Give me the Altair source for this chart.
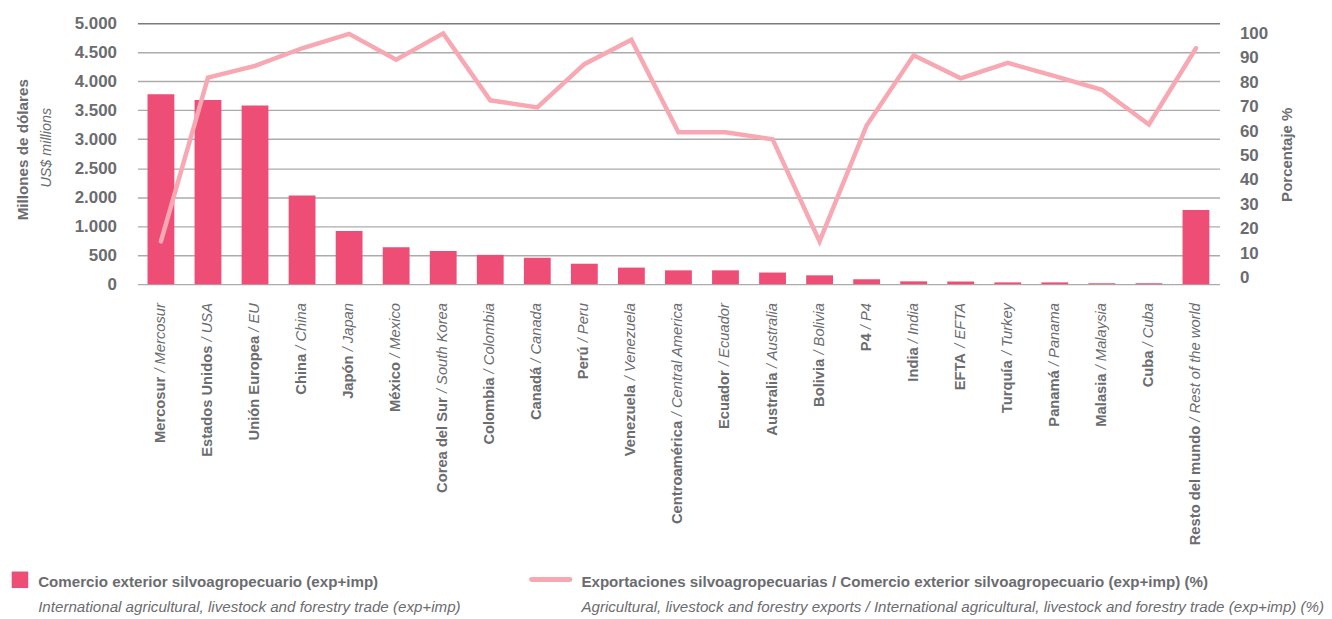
import altair as alt
import pandas as pd

# ---------------- data ----------------
es_names = ["Mercosur", "Estados Unidos", "Unión Europea", "China", "Japón", "México",
            "Corea del Sur", "Colombia", "Canadá", "Perú", "Venezuela", "Centroamérica",
            "Ecuador", "Australia", "Bolivia", "P4", "India", "EFTA", "Turquía", "Panamá",
            "Malasia", "Cuba", "Resto del mundo"]
en_names = ["Mercosur", "USA", "EU", "China", "Japan", "Mexico", "South Korea", "Colombia",
            "Canada", "Peru", "Venezuela", "Central America", "Ecuador", "Australia", "Bolivia",
            "P4", "India", "EFTA", "Turkey", "Panama", "Malaysia", "Cuba", "Rest of the world"]
# Comercio exterior silvoagropecuario (exp+imp), millones de US$
trade = [3775, 3675, 3580, 2030, 915, 638, 572, 505, 455, 352, 285, 238,
         238, 200, 152, 84, 48, 45, 30, 30, 15, 14, 1560]
# Exportaciones / comercio exterior (%)
export_share = [14.9, 81.9, 86.7, 93.9, 99.8, 89.2, 100.0, 72.6, 69.7, 87.4, 97.4, 59.5,
                59.5, 56.7, 14.9, 62.3, 91.0, 81.6, 87.9, 82.5, 76.9, 62.7, 93.9]
left_ticks = [0, 500, 1000, 2000, 2500, 3000, 3500, 4000, 4500, 5000]
right_ticks = [0, 10, 20, 30, 40, 50, 60, 70, 80, 90, 100]

legend_bar_es = "Comercio exterior silvoagropecuario (exp+imp)"
legend_bar_en = "International agricultural, livestock and forestry trade (exp+imp)"
legend_line_es = "Exportaciones silvoagropecuarias / Comercio exterior silvoagropecuario (exp+imp) (%)"
legend_line_en = ("Agricultural, livestock and forestry exports / International agricultural, "
                  "livestock and forestry trade (exp+imp) (%)")

# ---------------- style ----------------
FONT = "Liberation Sans, Arial, sans-serif"
GRAY = "#6b6c6f"
BAR = "#ee4e76"
LINE = "#f7a8b2"
W, H = 1087, 262
LABEL_FS = 14.8
LEG_FS = 15.2

ARIAL = {' ': 278, '/': 278, 'A': 667, 'B': 667, 'C': 722, 'D': 722, 'E': 667, 'F': 611,
         'G': 778, 'H': 722, 'I': 278, 'J': 500, 'K': 667, 'L': 556, 'M': 833, 'N': 722,
         'O': 778, 'P': 667, 'Q': 778, 'R': 722, 'S': 667, 'T': 611, 'U': 722, 'V': 667,
         'W': 944, 'X': 667, 'Y': 667, 'Z': 611, 'a': 556, 'b': 556, 'c': 500, 'd': 556,
         'e': 556, 'f': 278, 'g': 556, 'h': 556, 'i': 222, 'j': 222, 'k': 500, 'l': 222,
         'm': 833, 'n': 556, 'o': 556, 'p': 556, 'q': 556, 'r': 333, 's': 500, 't': 278,
         'u': 556, 'v': 500, 'w': 722, 'x': 500, 'y': 500, 'z': 500}


def text_width(s, fs):
    return sum(ARIAL.get(ch, 556) for ch in s) * fs / 1000.0


LABEL_TOP = 281
df = pd.DataFrame({
    "cat": es_names,
    "en_lbl": ["/ " + e for e in en_names],
    "trade": trade,
    "share": export_share,
})
df["by"] = [LABEL_TOP + text_width("/ " + e, LABEL_FS) + text_width(" ", LABEL_FS) for e in en_names]

x_enc = alt.X("cat:N", sort=es_names, axis=None,
              scale=alt.Scale(paddingInner=0.43, paddingOuter=0.215))

u = H / 9.0
bars = alt.Chart(df).mark_bar(color=BAR).encode(
    x=x_enc,
    y=alt.Y("trade:Q",
            scale=alt.Scale(domain=[0, 1000, 2000, 5000], range=[H, H - 2 * u, H - 3 * u, 0]),
            axis=alt.Axis(values=left_ticks, title=None, ticks=False, domain=False,
                          labelPadding=21, labelFontSize=17, labelFontWeight="bold",
                          labelColor=GRAY, labelFont=FONT,
                          labelExpr="replace(format(datum.value, ','), ',', '.')",
                          grid=True, gridWidth=1.4,
                          gridColor={"condition": {"test": "datum.value === 5000", "value": "#7b7b7b"},
                                     "value": "#ababab"})),
)

line = alt.Chart(df).mark_line(color=LINE, strokeWidth=4.5, strokeCap="round").encode(
    x=x_enc,
    y=alt.Y("share:Q", scale=alt.Scale(domain=[-2.6, 104.1]),
            axis=alt.Axis(orient="right", values=right_ticks, title=None, ticks=False,
                          domain=False, grid=False, labelPadding=20, labelFontSize=17,
                          labelFontWeight="bold", labelColor=GRAY, labelFont=FONT)),
)

lbl_bold = alt.Chart(df).mark_text(angle=270, align="right", baseline="middle", font=FONT,
                                   fontSize=LABEL_FS, fontWeight="bold", color=GRAY).encode(
    x=x_enc, y=alt.Y("by:Q", scale=None), text="cat:N")

lbl_it = alt.Chart(df).mark_text(angle=270, align="right", baseline="middle", font=FONT,
                                 fontSize=LABEL_FS, fontStyle="italic", color=GRAY).encode(
    x=x_enc, y=alt.value(LABEL_TOP), text="en_lbl:N")

one = pd.DataFrame({"k": [0]})


def txt(s, xp, yp, weight="normal", style="normal", size=LEG_FS, angle=0, align="left",
        baseline="alphabetic"):
    return alt.Chart(one).mark_text(text=s, font=FONT, fontSize=size, fontWeight=weight,
                                    fontStyle=style, color=GRAY, angle=angle, align=align,
                                    baseline=baseline).encode(x=alt.value(xp), y=alt.value(yp))


t_left1 = txt("Millones de dólares", -115, 127, weight="bold", size=15.3, angle=270,
              align="center", baseline="middle")
t_left2 = txt("US$ millions", -90.5, 125, style="italic", size=14.4, angle=270,
              align="center", baseline="middle")
t_right = txt("Porcentaje %", 1155, 132, weight="bold", size=15.1, angle=270,
              align="center", baseline="middle")

sw_bar = alt.Chart(one).mark_rect(color=BAR).encode(
    x=alt.value(-126.3), x2=alt.value(-109.7), y=alt.value(550.7), y2=alt.value(567.3))
sw_line = alt.Chart(one).mark_rule(color=LINE, strokeWidth=5, strokeCap="round").encode(
    x=alt.value(396), x2=alt.value(434.5), y=alt.value(558.7))

lg1a = txt(legend_bar_es, -99.7, 566, weight="bold")
lg1b = txt(legend_bar_en, -99.7, 591, style="italic")
lg2a = txt(legend_line_es, 446, 566, weight="bold")
lg2b = txt(legend_line_en, 446, 591, style="italic")

chart = alt.layer(
    bars, line, lbl_bold, lbl_it, t_left1, t_left2, t_right,
    sw_bar, sw_line, lg1a, lg1b, lg2a, lg2b
).resolve_scale(y="independent").properties(
    width=W, height=H,
    autosize=alt.AutoSizeParams(type="none"),
    padding={"left": 130, "top": 14, "right": 105, "bottom": 333},
).configure_view(stroke=None)

chart.save("out.html", embed_options={"renderer": "svg", "actions": False})
